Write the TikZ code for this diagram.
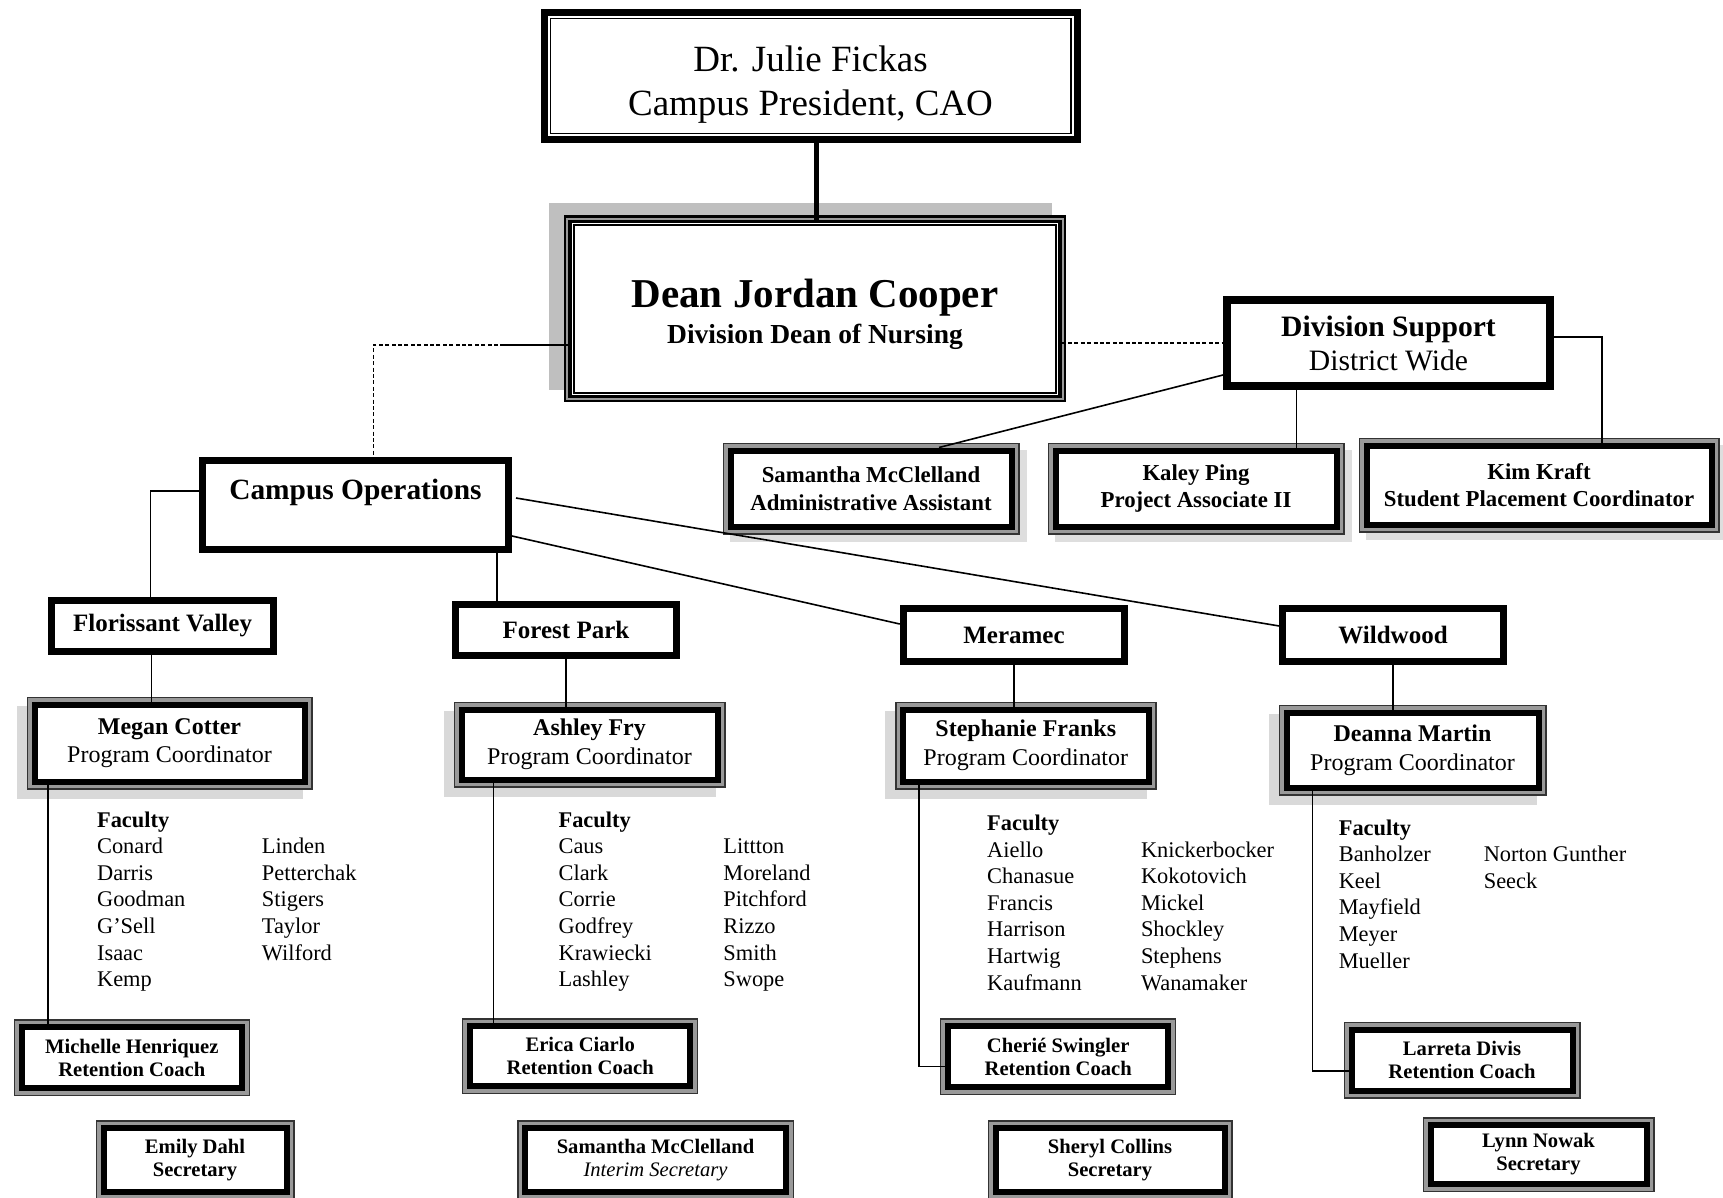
\documentclass[tikz,border=0pt]{standalone}
\usepackage{fontspec}
\setmainfont{Liberation Serif}
\usetikzlibrary{positioning,backgrounds}

\tikzset{
	boxsize/.style 2 args={minimum width=#1*0.5pt, minimum height=#2*0.5pt},
	presbox/.style={draw, line width=3.5pt, fill=white, align=center, inner sep=0pt, font=\fontsize{18.5}{22}\selectfont},
	deanbox/.style={draw, line width=1.6pt, fill=white, align=center, inner sep=0pt, font=\bfseries\fontsize{13.75}{18}\selectfont},
	heavybox/.style={draw, line width=3.5pt, fill=white, align=center, inner sep=0pt, font=\bfseries\fontsize{12.5}{15}\selectfont},
	ringbox/.style={draw, line width=3pt, fill=white, align=center, inner sep=0pt, font=\bfseries\fontsize{11.4}{13.7}\selectfont},
	coordbox/.style={ringbox, font=\fontsize{12}{14.3}\selectfont},
	smallbox/.style={ringbox, font=\bfseries\fontsize{10.3}{11.5}\selectfont},
	faclist/.style={anchor=base west, inner sep=0pt, font=\fontsize{11.2}{13.3}\selectfont},
	link/.style={line width=0.8pt},
	dotlink/.style={line width=0.8pt, dash pattern=on 2pt off 1.2pt},
}

\begin{document}
\begin{tikzpicture}[x=0.5pt,y=-0.5pt]
	\useasboundingbox (0,0) rectangle (1723,1198);

	% top of the chart
	\node[presbox, boxsize={533}{127}] (pres) at (810.5,76) {\rule{0pt}{21pt}Dr. Julie Fickas\\Campus President, CAO};
	\node[deanbox, boxsize={490}{175}] (dean) at (815,308.8) {\rule{0pt}{20pt}{\fontsize{20.5}{18}\selectfont Dean Jordan Cooper}\\Division Dean of Nursing};
	\node[heavybox, line width=4pt, boxsize={323}{86.4}, font=\fontsize{14.8}{17}\selectfont] (divs) at (1388.5,343) {\textbf{Division Support}\\District Wide};
	\node[heavybox, boxsize={306}{89}, font=\bfseries\fontsize{14.7}{17}\selectfont, text height=19.6pt, text depth=24.9pt] (ops) at (355.5,505) {Campus Operations};

	% district wide support
	\node[ringbox, boxsize={281}{76}] (sam) at (871,488.5) {Samantha McClelland\\Administrative Assistant};
	\node[ringbox, boxsize={281}{76}] (kaley) at (1196,488.5) {Kaley Ping\\Project Associate II};
	\node[ringbox, boxsize={345}{79}] (kim) at (1539,485) {Kim Kraft\\Student Placement Coordinator};

	% campuses
	\node[heavybox, boxsize={222}{51}] (fv) at (162.5,626) {Florissant Valley};
	\node[heavybox, boxsize={221}{51}] (fp) at (566,630) {Forest Park};
	\node[heavybox, boxsize={221.5}{52.5}] (mer) at (1014,635) {Meramec};
	\node[heavybox, boxsize={220.6}{52.5}] (wild) at (1393,635) {Wildwood};

	\node[coordbox, boxsize={270}{77}] (megan) at (169.5,743) {\textbf{Megan Cotter}\\Program Coordinator};
	\node[coordbox, boxsize={256}{70}] (ashley) at (589.5,744.5) {\textbf{Ashley Fry}\\Program Coordinator};
	\node[coordbox, boxsize={245.5}{72}] (steph) at (1025.8,745.5) {\textbf{Stephanie Franks}\\Program Coordinator};
	\node[coordbox, boxsize={252}{75}] (deanna) at (1412.5,750) {\textbf{Deanna Martin}\\Program Coordinator};

	\node[smallbox, boxsize={220.5}{61}] (mich) at (131.8,1057.7) {Michelle Henriquez\\Retention Coach};
	\node[smallbox, boxsize={220.5}{60}] (erica) at (580.2,1056) {Erica Ciarlo\\Retention Coach};
	\node[smallbox, boxsize={220.5}{61}] (cher) at (1058.2,1056.6) {Cherié Swingler\\Retention Coach};
	\node[smallbox, boxsize={221}{61}] (larr) at (1462,1060) {Larreta Divis\\Retention Coach};

	\node[smallbox, boxsize={183}{64}] (emily) at (195,1160) {Emily Dahl\\Secretary};
	\node[smallbox, boxsize={261}{64}] (samsec) at (655.5,1160) {Samantha McClelland\\{\mdseries\itshape Interim Secretary}};
	\node[smallbox, boxsize={229}{64}] (sheryl) at (1110,1160) {Sheryl Collins\\Secretary};
	\node[smallbox, boxsize={216}{59}] (lynn) at (1538.5,1154.5) {Lynn Nowak\\Secretary};

	% faculty lists
	\node[faclist] (fvfac) at (96.7,827) {\begin{tabular}[t]{@{}p{82.4pt}@{}l@{}}
		\textbf{Faculty} & \\
		Conard & Linden\\
		Darris & Petterchak\\
		Goodman & Stigers\\
		G’Sell & Taylor\\
		Isaac & Wilford\\
		Kemp &
	\end{tabular}};
	\node[faclist] (fpfac) at (558.2,827) {\begin{tabular}[t]{@{}p{82.4pt}@{}l@{}}
		\textbf{Faculty} & \\
		Caus & Littton\\
		Clark & Moreland\\
		Corrie & Pitchford\\
		Godfrey & Rizzo\\
		Krawiecki & Smith\\
		Lashley & Swope
	\end{tabular}};
	\node[faclist] (merfac) at (986.8,830.5) {\begin{tabular}[t]{@{}p{76.9pt}@{}l@{}}
		\textbf{Faculty} & \\
		Aiello & Knickerbocker\\
		Chanasue & Kokotovich\\
		Francis & Mickel\\
		Harrison & Shockley\\
		Hartwig & Stephens\\
		Kaufmann & Wanamaker
	\end{tabular}};
	\node[faclist] (wildfac) at (1338.4,835) {\begin{tabular}[t]{@{}p{72.5pt}@{}l@{}}
		\textbf{Faculty} & \\
		Banholzer & Norton Gunther\\
		Keel & Seeck\\
		Mayfield & \\
		Meyer & \\
		Mueller &
	\end{tabular}};

	% extra frame lines
	\draw[line width=0.7pt] ([shift={(9.7,-9.7)}]pres.south west) rectangle ([shift={(-9.7,9.7)}]pres.north east);
	\draw[line width=1pt] ([shift={(5.2,-5.2)}]dean.south west) rectangle ([shift={(-5.2,5.2)}]dean.north east);
	\begin{scope}[on background layer]
		\fill[black!25] ([shift={(-19,-8)}]dean.south west) rectangle ([shift={(-10,-17)}]dean.north east);
		\draw[line width=1.25pt, fill=black!40] ([shift={(-3.25,3.25)}]dean.south west) rectangle ([shift={(3.25,-3.25)}]dean.north east);
		\foreach \n in {megan,ashley,steph,deanna}
			\fill[black!15] ([shift={(-15,14)}]\n.south west) rectangle ([shift={(-5,4)}]\n.north east);
		\foreach \n in {sam,kaley,kim}
			\fill[black!13] ([shift={(2,12)}]\n.south west) rectangle ([shift={(12,2)}]\n.north east);
		\foreach \n in {sam,kaley,kim,megan,ashley,steph,deanna,mich,erica,cher,larr,emily,samsec,sheryl,lynn}
			\draw[black!80, line width=0.75pt, fill=black!40] ([shift={(-4.25,4.25)}]\n.south west) rectangle ([shift={(4.25,-4.25)}]\n.north east);
	\end{scope}

	% connectors
	\coordinate (pd) at ([shift={(6,0)}]pres.south);
	\draw[line width=2.4pt] (pd) -- (pd |- dean.north);
	\draw[link] ([shift={(0,36)}]dean.west) -- ++(-64,0) coordinate (dl);
	\draw[dotlink] (dl) -| ([shift={(18,0)}]ops.north);
	\draw[dotlink] (dean.east |- divs.west) -- (divs.west);

	\coordinate (kd) at ([shift={(-92,0)}]divs.south);
	\draw[link] ([shift={(0,32)}]divs.west) -- ([shift={(68,0)}]sam.north);
	\draw[link] (kd) -- (kd |- kaley.north);
	\draw[link] ([shift={(0,-6)}]divs.east) -| ([shift={(63,0)}]kim.north);

	\coordinate (fpu) at ([shift={(-69,0)}]fp.north);
	\draw[link] ([shift={(0,-14)}]ops.west) -| ([shift={(-12,0)}]fv.north);
	\draw[link] (fpu |- ops.south) -- (fpu);
	\draw[link] ([shift={(0,31)}]ops.east) -- ([shift={(0,-11)}]mer.west);
	\draw[link] ([shift={(4,-7)}]ops.east) -- ([shift={(0,-9)}]wild.west);

	\coordinate (fvd) at ([shift={(-11,0)}]fv.south);
	\draw[link] (fvd) -- (fvd |- megan.north);
	\draw[link] (fp.south) -- (fp.south |- ashley.north);
	\draw[link] (mer.south) -- (mer.south |- steph.north);
	\draw[link] (wild.south) -- (wild.south |- deanna.north);

	\coordinate (mgd) at ([shift={(-121.5,0)}]megan.south);
	\coordinate (asd) at ([shift={(-96,0)}]ashley.south);
	\coordinate (std) at ([shift={(-107,0)}]steph.south);
	\coordinate (dnd) at ([shift={(-100,0)}]deanna.south);
	\draw[link] (mgd) -- (mgd |- mich.north);
	\draw[link] (asd) -- (asd |- erica.north);
	\draw[link] (std) |- ([shift={(0,10)}]cher.west);
	\draw[link] (dnd) |- ([shift={(0,11)}]larr.west);
\end{tikzpicture}
\end{document}
